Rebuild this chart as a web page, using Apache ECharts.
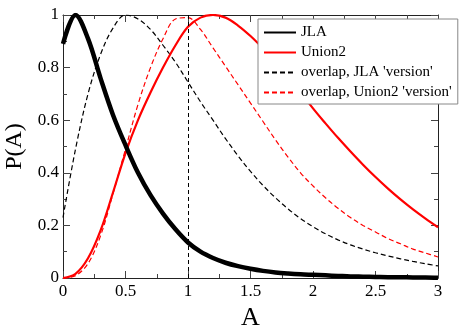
<!DOCTYPE html>
<html>
<head>
<meta charset="utf-8">
<script src="https://cdn.jsdelivr.net/npm/echarts@6/dist/echarts.min.js"></script>
<style>
  html, body { margin: 0; padding: 0; background: #fff; }
  #chart { width: 465px; height: 331px; }
</style>
</head>
<body>
<div id="chart"></div>
<script>
// values, one per step of 0.1 in A
const aGrid = [0, 0.1, 0.2, 0.3, 0.4, 0.5, 0.6, 0.7, 0.8, 0.9, 1.0, 1.1, 1.2, 1.3, 1.4, 1.5,
  1.6, 1.7, 1.8, 1.9, 2.0, 2.1, 2.2, 2.3, 2.4, 2.5, 2.6, 2.7, 2.8, 2.9, 3.0];
const jla = [0.89, 1.0, 0.91, 0.76, 0.62, 0.505, 0.4, 0.315, 0.245, 0.185, 0.135, 0.1, 0.076, 0.058, 0.045, 0.035,
  0.027, 0.021, 0.017, 0.014, 0.012, 0.01, 0.008, 0.006, 0.005, 0.004, 0.003, 0.003, 0.002, 0.002, 0.001];
const union2 = [0, 0.016, 0.075, 0.18, 0.325, 0.475, 0.6, 0.705, 0.8, 0.885, 0.955, 0.99, 1.0, 0.99, 0.96, 0.92,
  0.873, 0.822, 0.767, 0.708, 0.645, 0.588, 0.533, 0.481, 0.431, 0.384, 0.34, 0.299, 0.261, 0.226, 0.193];
const overlapJla = [0.23, 0.49, 0.7, 0.85, 0.95, 1.0, 0.985, 0.945, 0.885, 0.82, 0.745, 0.67, 0.6, 0.53, 0.465, 0.405,
  0.352, 0.305, 0.263, 0.226, 0.195, 0.168, 0.145, 0.126, 0.11, 0.096, 0.084, 0.073, 0.063, 0.054, 0.046];
const overlapUnion2 = [0, 0.009, 0.055, 0.16, 0.32, 0.49, 0.66, 0.8, 0.91, 0.985, 0.99, 0.945, 0.875, 0.805, 0.735, 0.665,
  0.595, 0.525, 0.46, 0.4, 0.35, 0.305, 0.265, 0.23, 0.2, 0.175, 0.15, 0.13, 0.11, 0.095, 0.08];
const refLineA = [1];

const names = ['JLA', 'Union2', "overlap, JLA 'version'", "overlap, Union2 'version'"];

const font = "Liberation Serif";

function pairs(ys) {
  return aGrid.map((a, i) => [a, ys[i]]);
}

const chart = echarts.init(document.getElementById('chart'), null, { renderer: 'canvas' });

// ticks pointing inwards on all four sides
function boxAxis(pos, isX, showLabel) {
  return {
    type: 'value',
    position: pos,
    min: 0,
    max: isX ? 3 : 1,
    interval: isX ? 0.5 : 0.2,
    axisLine: { show: true, onZero: false, lineStyle: { color: '#222', width: 1 } },
    axisTick: { show: true, inside: true, length: 7, lineStyle: { color: '#444' } },
    minorTick: { show: true, splitNumber: 2, length: 4, lineStyle: { color: '#444' } },
    splitLine: { show: false },
    axisLabel: {
      show: showLabel,
      margin: isX ? 5 : 4,
      fontFamily: font,
      fontSize: 17,
      color: '#000'
    }
  };
}

const xBottom = boxAxis('bottom', true, true);
xBottom.name = 'A';
xBottom.nameLocation = 'middle';
xBottom.nameGap = 22;
xBottom.nameTextStyle = { fontFamily: font, fontSize: 26, color: '#000' };

const yLeft = boxAxis('left', false, true);
yLeft.name = 'P(A)';
yLeft.nameLocation = 'middle';
yLeft.nameGap = 36;
yLeft.nameRotate = 90;
yLeft.nameTextStyle = { fontFamily: font, fontSize: 24, color: '#000' };

function lineSeries(idx, ys, color, width, dash) {
  return {
    name: names[idx],
    type: 'line',
    data: pairs(ys),
    symbol: 'none',
    smooth: 0.35,
    lineStyle: { color: color, width: width, type: dash || 'solid' },
    itemStyle: { color: color }
  };
}

const dashedJla = lineSeries(2, overlapJla, '#000', 1.2, [5, 3]);
dashedJla.markLine = {
  silent: true,
  symbol: ['none', 'none'],
  label: { show: false },
  lineStyle: { color: '#000', width: 1, type: [4, 3] },
  data: refLineA.map(v => ({ xAxis: v }))
};

const option = {
  animation: false,
  backgroundColor: '#fff',
  textStyle: { fontFamily: font },
  grid: { left: 63, top: 15, right: 27, bottom: 53, containLabel: false, outerBoundsMode: 'none' },
  xAxis: [xBottom, boxAxis('top', true, false)],
  yAxis: [yLeft, boxAxis('right', false, false)],
  legend: {
    orient: 'vertical',
    left: 258,
    top: 19,
    data: names,
    itemWidth: 32,
    itemHeight: 12,
    itemGap: 5,
    padding: [6, 6, 4, 5],
    backgroundColor: '#fff',
    borderColor: '#888',
    borderWidth: 1,
    borderRadius: 0,
    itemStyle: { opacity: 0 },
    textStyle: { fontFamily: font, fontSize: 15, color: '#000' }
  },
  series: [
    dashedJla,
    lineSeries(3, overlapUnion2, '#ff0000', 1.2, [5, 3]),
    lineSeries(1, union2, '#ff0000', 2.2),
    lineSeries(0, jla, '#000', 4.5)
  ]
};

chart.setOption(option);
</script>
</body>
</html>
